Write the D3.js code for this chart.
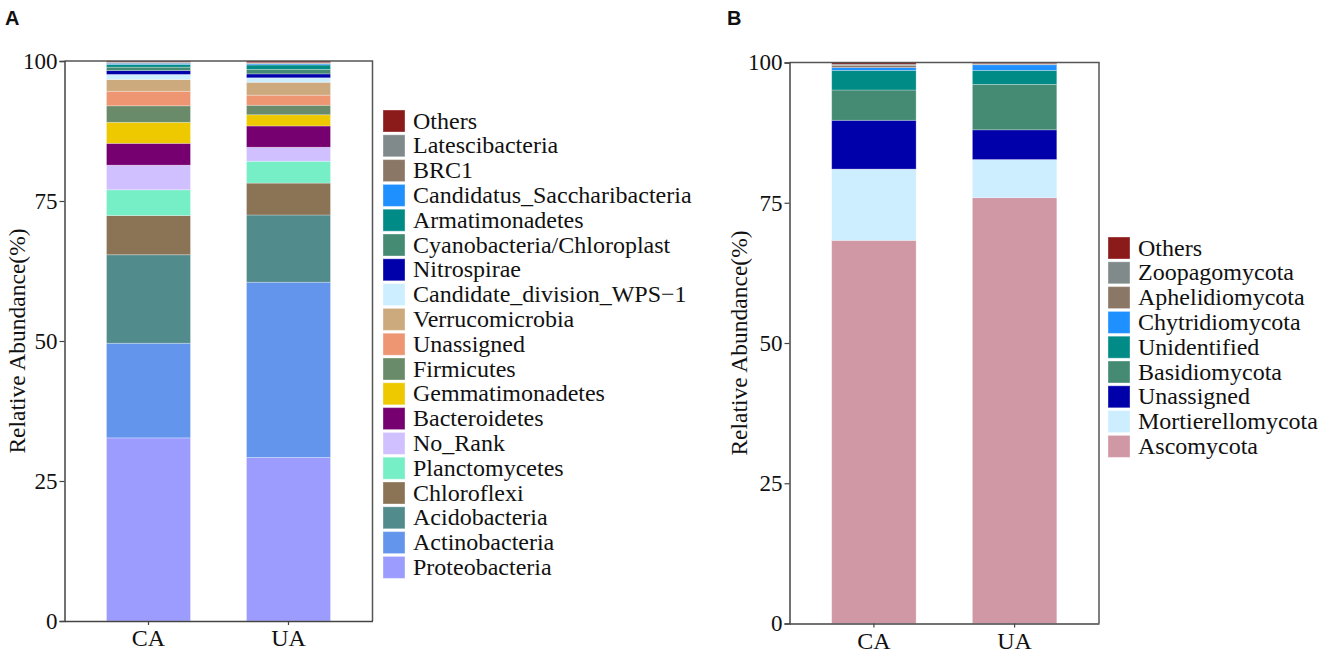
<!DOCTYPE html>
<html>
<head>
<meta charset="utf-8">
<title>Relative abundance</title>
<script src="https://d3js.org/d3.v7.min.js"></script>
<style>
    body { margin: 0; background: #fff; }
    svg text { font-family: "Liberation Serif", "Times New Roman", serif; fill: #111; }
    .panel-letter { font-family: "Liberation Sans", Arial, sans-serif !important; font-weight: bold; }
</style>
</head>
<body>
<div id="chart"></div>
<script>
// sample groups
var groups = ["CA", "UA"];
var yTicks = [0, 25, 50, 75, 100];

// panel A: bacteria phyla, bottom of the stack first
var taxaA = ["Proteobacteria", "Actinobacteria", "Acidobacteria", "Chloroflexi", "Planctomycetes",
    "No_Rank", "Bacteroidetes", "Gemmatimonadetes", "Firmicutes", "Unassigned", "Verrucomicrobia",
    "Candidate_division_WPS\u22121", "Nitrospirae", "Cyanobacteria/Chloroplast", "Armatimonadetes",
    "Candidatus_Saccharibacteria", "BRC1", "Latescibacteria", "Others"];
var caA = [32.7, 16.9, 15.8, 7.0, 4.6, 4.4, 3.9, 3.75, 2.95, 2.6, 2.1, 0.9, 0.7, 0.6, 0.5, 0.2, 0.1, 0.1, 0.2];
var uaA = [29.2, 31.3, 12.0, 5.7, 3.9, 2.5, 3.8, 2.0, 1.7, 1.8, 2.3, 0.8, 0.7, 0.8, 0.8, 0.2, 0.1, 0.1, 0.3];
var colorsA = ["#9c9cff", "#6495ed", "#528b8b", "#8b7355", "#76eec6", "#d1c0ff", "#760070", "#eec900",
    "#698b69", "#ee9572", "#cdaa7d", "#cceeff", "#0000aa", "#458b74", "#008b87", "#1e90ff",
    "#8b7765", "#808a8a", "#8b1a1a"];

// panel B: fungi phyla, bottom of the stack first
var taxaB = ["Ascomycota", "Mortierellomycota", "Unassigned", "Basidiomycota", "Unidentified",
    "Chytridiomycota", "Aphelidiomycota", "Zoopagomycota", "Others"];
var caB = [68.3, 12.7, 8.7, 5.4, 3.5, 0.5, 0.4, 0.2, 0.3];
var uaB = [75.9, 6.8, 5.3, 8.1, 2.5, 1.0, 0.1, 0.1, 0.2];
var colorsB = ["#d097a5", "#cceeff", "#0000aa", "#458b74", "#008b87", "#1e90ff", "#8b7765", "#808a8a", "#8b1a1a"];

var svg = d3.select("#chart").append("svg")
    .attr("width", 1325)
    .attr("height", 656);

function drawPanel(opt) {
    var g = svg.append("g");

    // build rows for d3.stack
    var rows = groups.map(function(grp, i) {
        var row = {group: grp};
        opt.taxa.forEach(function(t, j) { row[t] = opt.values[i][j]; });
        return row;
    });
    var stacked = d3.stack().keys(opt.taxa)(rows);

    var x = d3.scaleBand()
        .domain(groups)
        .range([opt.left, opt.right])
        .paddingInner(0.4)
        .paddingOuter(0.3);

    var y = d3.scaleLinear()
        .domain([0, 100])
        .range([opt.bottom, opt.top]);

    var color = d3.scaleOrdinal().domain(opt.taxa).range(opt.colors);

    // bars
    g.selectAll(".layer")
        .data(stacked)
        .enter().append("g")
        .attr("class", "layer")
        .attr("fill", function(d) { return color(d.key); })
        .selectAll("rect")
        .data(function(d) { return d; })
        .enter().append("rect")
        .attr("x", function(d) { return x(d.data.group); })
        .attr("width", x.bandwidth())
        .attr("y", function(d) { return y(d[1]); })
        .attr("height", function(d) { return y(d[0]) - y(d[1]); })
        .attr("stroke", "#fff")
        .attr("stroke-opacity", 0.35)
        .attr("stroke-width", 0.8);

    // frame (top and right)
    g.append("path")
        .attr("d", "M" + opt.left + "," + opt.top + "H" + opt.right + "V" + opt.bottom)
        .attr("fill", "none")
        .attr("stroke", "#555")
        .attr("stroke-width", 1.5);

    // y axis
    var yAxis = g.append("g")
        .attr("transform", "translate(" + opt.left + ",0)")
        .call(d3.axisLeft(y).tickValues(yTicks).tickSize(5).tickPadding(2));
    yAxis.select(".domain").attr("stroke", "#444").attr("stroke-width", 1.5);
    yAxis.selectAll(".tick line").attr("stroke", "#444").attr("stroke-width", 1.2);
    yAxis.selectAll("text").style("font-size", "23px").attr("fill", "#111");

    // x axis
    var xAxis = g.append("g")
        .attr("transform", "translate(0," + opt.bottom + ")")
        .call(d3.axisBottom(x).tickSize(4).tickSizeOuter(0).tickPadding(4));
    xAxis.select(".domain").attr("stroke", "#444").attr("stroke-width", 1.5);
    xAxis.selectAll(".tick line").attr("stroke", "#444").attr("stroke-width", 1.2);
    xAxis.selectAll("text").style("font-size", "24px").attr("fill", "#111");

    // y label
    g.append("text")
        .attr("transform", "translate(" + opt.ylabelX + "," + ((opt.top + opt.bottom) / 2) + ") rotate(-90)")
        .attr("text-anchor", "middle")
        .style("font-size", "23.5px")
        .text("Relative Abundance(%)");

    // panel letter
    g.append("text")
        .attr("class", "panel-letter")
        .attr("x", opt.letterX)
        .attr("y", 25)
        .style("font-size", "20px")
        .text(opt.letter);

    // legend, top of stack first
    var legendItems = opt.taxa.slice().reverse();
    var leg = g.selectAll(".legend")
        .data(legendItems)
        .enter().append("g")
        .attr("transform", function(d, i) { return "translate(" + opt.legendX + "," + (opt.legendY + i * 24.8) + ")"; });
    leg.append("rect")
        .attr("width", 22)
        .attr("height", 22)
        .attr("fill", function(d) { return color(d); })
        .attr("stroke", "#fff")
        .attr("stroke-opacity", 0.35);
    leg.append("text")
        .attr("x", 30)
        .attr("y", 18.5)
        .style("font-size", "24px")
        .text(function(d) { return d; });
}

drawPanel({
    taxa: taxaA, values: [caA, uaA], colors: colorsA,
    left: 64.5, right: 372.5, top: 61, bottom: 621,
    ylabelX: 25, letter: "A", letterX: 5,
    legendX: 383, legendY: 110
});

drawPanel({
    taxa: taxaB, values: [caB, uaB], colors: colorsB,
    left: 789.5, right: 1099, top: 62.5, bottom: 623.5,
    ylabelX: 747, letter: "B", letterX: 727,
    legendX: 1108, legendY: 237
});
</script>
</body>
</html>
